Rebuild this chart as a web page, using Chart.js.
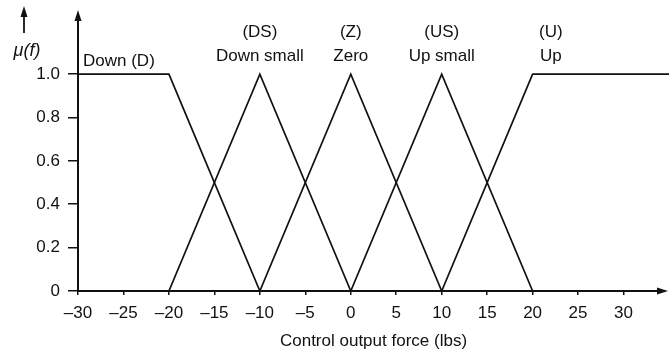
<!DOCTYPE html>
<html>
<head>
<meta charset="utf-8">
<script src="https://cdn.jsdelivr.net/npm/chart.js@4.4.1/dist/chart.umd.min.js"></script>
<style>
  html, body { margin: 0; padding: 0; background: #fff; }
</style>
</head>
<body>
<canvas id="myChart" width="670" height="353"></canvas>
<script>
// fuzzy sets for the control output force: breakpoints (lbs) and membership
const downX = [-30, -20, -10];
const downMu = [1, 1, 0];
const downSmallX = [-20, -10, 0];
const downSmallMu = [0, 1, 0];
const zeroX = [-10, 0, 10];
const zeroMu = [0, 1, 0];
const upSmallX = [0, 10, 20];
const upSmallMu = [0, 1, 0];
const upX = [10, 20, 35];
const upMu = [0, 1, 1];

// set captions and where they sit along the force axis
const setNames = ['Down (D)', 'Down small', 'Zero', 'Up small', 'Up'];
const setCodes = ['', '(DS)', '(Z)', '(US)', '(U)'];
const captionAt = [-25.5, -10, 0, 10, 22];

const xTicks = [-30, -25, -20, -15, -10, -5, 0, 5, 10, 15, 20, 25, 30];
const yTicks = [0, 0.2, 0.4, 0.6, 0.8, 1.0];

const ink = '#111';
const fontFamily = '"Liberation Sans", Arial, Helvetica, sans-serif';

function toPoints(xs, ys) {
    return xs.map((x, i) => ({ x: x, y: ys[i] }));
}

const series = [
    [downX, downMu],
    [downSmallX, downSmallMu],
    [zeroX, zeroMu],
    [upSmallX, upSmallMu],
    [upX, upMu]
];

const datasets = series.map((s, i) => ({
    label: setNames[i],
    data: toPoints(s[0], s[1]),
    borderColor: ink,
    borderWidth: 1.7,
    pointRadius: 0,
    tension: 0,
    fill: false
}));

function arrowHead(ctx, x, y, dir) {
    // dir: 'up' or 'right'
    ctx.beginPath();
    if (dir === 'up') {
        ctx.moveTo(x, y);
        ctx.lineTo(x - 3.5, y + 11);
        ctx.lineTo(x + 3.5, y + 11);
    } else {
        ctx.moveTo(x, y);
        ctx.lineTo(x - 11, y - 3.5);
        ctx.lineTo(x - 11, y + 3.5);
    }
    ctx.closePath();
    ctx.fill();
}

const axesPlugin = {
    id: 'axesAndCaptions',
    afterDraw(chart) {
        const ctx = chart.ctx;
        const area = chart.chartArea;
        const xs = chart.scales.x;
        const ys = chart.scales.y;
        ctx.save();
        ctx.strokeStyle = ink;
        ctx.fillStyle = ink;
        ctx.lineWidth = 2;

        // axes with arrows
        ctx.beginPath();
        ctx.moveTo(area.left, area.bottom);
        ctx.lineTo(area.left, area.top + 4);
        ctx.moveTo(area.left, area.bottom);
        ctx.lineTo(area.right - 4, area.bottom);
        ctx.stroke();
        arrowHead(ctx, area.left, area.top + 1, 'up');
        arrowHead(ctx, area.right - 1, area.bottom, 'right');

        // mu(f) marker to the left of the axis
        ctx.lineWidth = 1.8;
        ctx.beginPath();
        ctx.moveTo(24, area.top + 24);
        ctx.lineTo(24, area.top + 2);
        ctx.stroke();
        arrowHead(ctx, 24, area.top - 3, 'up');
        ctx.font = 'italic 18px ' + fontFamily;
        ctx.textAlign = 'center';
        ctx.textBaseline = 'middle';
        ctx.fillText('\u03bc(f)', 27, area.top + 42);

        // set captions above the peaks
        const top = ys.getPixelForValue(1);
        ctx.font = '17px ' + fontFamily;
        setNames.forEach((name, i) => {
            const cx = xs.getPixelForValue(captionAt[i]);
            if (setCodes[i] === '') {
                ctx.fillText(name, cx, top - 13);
            } else {
                ctx.fillText(setCodes[i], cx, top - 42);
                ctx.fillText(name, cx, top - 18);
            }
        });
        ctx.restore();
    }
};

const ctx = document.getElementById('myChart').getContext('2d');
window.myChart = new Chart(ctx, {
    type: 'line',
    data: { datasets: datasets },
    plugins: [axesPlugin],
    options: {
        responsive: false,
        animation: false,
        layout: { padding: { top: 9, right: 1, left: 0, bottom: 0 } },
        plugins: {
            legend: { display: false },
            tooltip: { enabled: false }
        },
        scales: {
            x: {
                type: 'linear',
                min: -30,
                max: 35,
                afterBuildTicks: scale => { scale.ticks = xTicks.map(v => ({ value: v })); },
                afterFit: scale => {
                    scale.height = 62;
                    scale.paddingLeft = 0;
                    scale.paddingRight = 0;
                },
                border: { display: false },
                grid: {
                    drawOnChartArea: false,
                    color: ink,
                    lineWidth: 1.5,
                    tickLength: 4
                },
                ticks: {
                    color: ink,
                    padding: 8,
                    maxRotation: 0,
                    font: { family: fontFamily, size: 17 },
                    callback: v => String(v).replace('-', '\u2013')
                },
                title: {
                    display: true,
                    text: 'Control output force (lbs)',
                    color: ink,
                    font: { family: fontFamily, size: 17 },
                    padding: { top: 2, bottom: 1 }
                }
            },
            y: {
                type: 'linear',
                min: 0,
                max: 1.3,
                afterBuildTicks: scale => { scale.ticks = yTicks.map(v => ({ value: v })); },
                afterFit: scale => {
                    scale.width = 78;
                    scale.paddingTop = 0;
                    scale.paddingBottom = 0;
                },
                border: { display: false },
                grid: {
                    drawOnChartArea: false,
                    color: ink,
                    lineWidth: 1.5,
                    tickLength: 10
                },
                ticks: {
                    color: ink,
                    padding: 8,
                    font: { family: fontFamily, size: 17 },
                    callback: v => (v === 0 ? '0' : v.toFixed(1))
                }
            }
        }
    }
});
</script>
</body>
</html>
